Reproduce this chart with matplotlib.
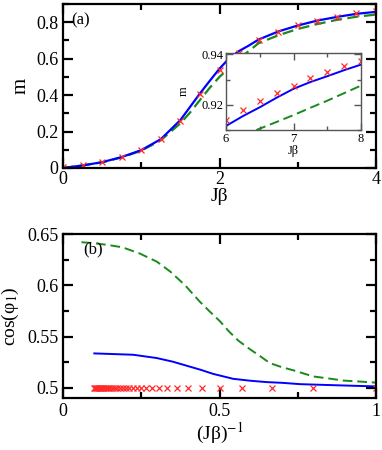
import matplotlib
matplotlib.use("Agg")
from matplotlib import pyplot as plt
from matplotlib.ticker import MultipleLocator

plt.rcParams['font.family'] = ['Liberation Serif', 'DejaVu Serif']
plt.rcParams['mathtext.fontset'] = 'stix'

# ---- panel (a): m vs J*beta ----
jb_pts = [0, 0.25, 0.5, 0.75, 1.0, 1.25, 1.5, 1.75, 2.0, 2.25, 2.5, 2.75, 3.0, 3.25, 3.5, 3.75, 4.0]
m_pts = [0.003, 0.016, 0.035, 0.063, 0.10, 0.16, 0.26, 0.405, 0.536, 0.631, 0.704, 0.749, 0.786, 0.809, 0.829, 0.848, 0.86]

jb_line = [0, 0.25, 0.5, 0.75, 1.0, 1.25, 1.5, 1.625, 1.75, 1.875, 2.0, 2.125, 2.25, 2.375,
           2.5, 2.75, 3.0, 3.25, 3.5, 3.75, 4.0]
m_blue = [0.0, 0.014, 0.032, 0.060, 0.098, 0.158, 0.263, 0.336, 0.409, 0.478, 0.545, 0.603, 0.642, 0.672,
          0.705, 0.749, 0.782, 0.809, 0.829, 0.846, 0.857]
m_green = [0.0, 0.014, 0.031, 0.058, 0.095, 0.152, 0.245, 0.305, 0.373, 0.44, 0.50, 0.55, 0.599, 0.642,
           0.685, 0.728, 0.763, 0.790, 0.813, 0.830, 0.842]

# inset
jb_in_pts = [6.0, 6.25, 6.5, 6.75, 7.0, 7.25, 7.5, 7.75, 8.0]
m_in_pts = [0.9139, 0.9178, 0.9214, 0.9246, 0.9276, 0.9304, 0.9330, 0.9355, 0.9375]
jb_in_line = [6.0, 6.25, 6.5, 6.75, 7.0, 7.25, 7.5, 7.75, 8.0]
m_in_blue = [0.9116, 0.9155, 0.9190, 0.9228, 0.9263, 0.9290, 0.9313, 0.9337, 0.9359]
jb_in_green = [6.45, 6.75, 7.0, 7.25, 7.5, 7.75, 8.0]
m_in_green = [0.9100, 0.9132, 0.9159, 0.9188, 0.9216, 0.9246, 0.9276]

# ---- panel (b): cos(phi_1) vs 1/(J*beta) ----
jb_b_pts = [1.0, 1.25, 1.5, 1.75, 2.0, 2.25, 2.5, 2.75, 3.0, 3.25, 3.5, 3.75, 4.0,
            4.25, 4.5, 4.75, 5.0, 5.25, 5.5, 5.75, 6.0, 6.25, 6.5, 6.75, 7.0,
            7.25, 7.5, 7.75, 8.0, 8.25, 8.5, 8.75, 9.0, 9.25, 9.5, 9.75, 10.0]
cos_pts = [0.5] * len(jb_b_pts)

invjb_green = [0.059, 0.1, 0.15, 0.19, 0.245, 0.3, 0.342, 0.39, 0.437, 0.47, 0.501, 0.53, 0.56,
               0.6, 0.629, 0.661, 0.7, 0.736, 0.8, 0.85, 0.896, 0.95, 1.0]
cos_green = [0.642, 0.641, 0.639, 0.637, 0.631, 0.623, 0.6135, 0.600, 0.584, 0.574, 0.565, 0.555, 0.546,
             0.537, 0.531, 0.524, 0.520, 0.517, 0.511, 0.509, 0.507, 0.506, 0.505]
invjb_blue = [0.1, 0.224, 0.299, 0.35, 0.395, 0.44, 0.48, 0.544, 0.6, 0.651, 0.7, 0.758, 0.843, 0.92, 1.0]
cos_blue = [0.5335, 0.5322, 0.529, 0.5255, 0.5215, 0.5175, 0.5135, 0.5087, 0.5068, 0.5055, 0.5048,
            0.5035, 0.5027, 0.502, 0.5013]

W, H = 382, 450
fig = plt.figure(figsize=(W / 100, H / 100), dpi=100)


def box(l, t, r, b):
    return [l / W, 1 - b / H, (r - l) / W, (b - t) / H]


def style(ax, size=13, major=7, minor=4):
    for s in ax.spines.values():
        s.set_linewidth(1.6)
    ax.tick_params(which='both', direction='in', top=True, right=True, width=1.6, labelsize=size)
    ax.tick_params(which='major', length=major)
    ax.tick_params(which='minor', length=minor)


red = '#ff2a2a'
blue = '#0000ff'
green = '#1a8a1a'

ax1 = fig.add_axes(box(63, 4, 376, 168))
ax1.plot(jb_line, m_green, '--', color=green, lw=1.6, dashes=(5, 2.5))
ax1.plot(jb_line, m_blue, '-', color=blue, lw=1.6)
ax1.plot(jb_pts, m_pts, 'x', color=red, ms=4.5, mew=0.9)
ax1.set_xlim(0, 4)
ax1.set_ylim(0, 0.9)
ax1.set_xticks([0, 2, 4])
ax1.set_xticklabels(['0', '2', '4'])
ax1.xaxis.set_minor_locator(MultipleLocator(1))
ax1.set_yticks([0, 0.2, 0.4, 0.6, 0.8])
ax1.set_yticklabels(['0', '0.2', '0.4', '0.6', '0.8'])
ax1.yaxis.set_minor_locator(MultipleLocator(0.1))
style(ax1)
ax1.tick_params(axis='x', pad=2)
ax1.set_xlabel('J\u03b2', fontsize=14, labelpad=0)
ax1.set_ylabel('m', fontsize=15, labelpad=4)
ax1.text(0.1, 0.81, '(a)', fontsize=12, va='center')

axin = fig.add_axes(box(226, 53, 361, 130))
axin.plot(jb_in_green, m_in_green, '--', color=green, lw=1.4, dashes=(5, 2.5))
axin.plot(jb_in_line, m_in_blue, '-', color=blue, lw=1.4)
axin.plot(jb_in_pts, m_in_pts, 'x', color=red, ms=4.5, mew=0.9)
axin.set_xlim(6, 8)
axin.set_ylim(0.91, 0.9405)
axin.set_xticks([6, 7, 8])
axin.set_xticklabels(['6', '7', '8'])
axin.xaxis.set_minor_locator(MultipleLocator(0.5))
axin.set_yticks([0.92, 0.94])
axin.set_yticklabels(['0.92', '0.94'])
axin.yaxis.set_minor_locator(MultipleLocator(0.01))
for s in axin.spines.values():
    s.set_linewidth(1.0)
    s.set_color('#555555')
axin.tick_params(which='both', direction='in', top=True, right=True, width=1.0, labelsize=9, pad=2, color='#555555')
axin.tick_params(which='major', length=5)
axin.tick_params(which='minor', length=3)
axin.set_xlabel('J\u03b2', fontsize=9, labelpad=0)
axin.set_ylabel('m', fontsize=9)
axin.yaxis.set_label_coords(-0.27, 0.5)

ax2 = fig.add_axes(box(63, 234, 376, 398))
ax2.plot(invjb_green, cos_green, '--', color=green, lw=1.4, dashes=(5, 2.5))
ax2.plot(invjb_blue, cos_blue, '-', color=blue, lw=1.4)
ax2.plot([1 / v for v in jb_b_pts], cos_pts, 'x', color=red, ms=4.5, mew=0.9)
ax2.set_xlim(0, 1)
ax2.set_ylim(0.49, 0.65)
ax2.set_xticks([0, 0.5, 1])
ax2.set_xticklabels(['0', '0.5', '1'])
ax2.xaxis.set_minor_locator(MultipleLocator(0.25))
ax2.set_yticks([0.5, 0.55, 0.6, 0.65])
ax2.set_yticklabels(['0.5', '0.55', '0.6', '0.65'])
ax2.yaxis.set_minor_locator(MultipleLocator(0.025))
style(ax2)
ax2.set_xlabel('(J\u03b2)$^{-1}$', fontsize=14, labelpad=1)
ax2.set_ylabel('cos(\u03c6$_1$)', fontsize=14, labelpad=4)
ax2.text(0.065, 0.635, '(b)', fontsize=12, va='center')

fig.savefig('out.png', dpi=100)
